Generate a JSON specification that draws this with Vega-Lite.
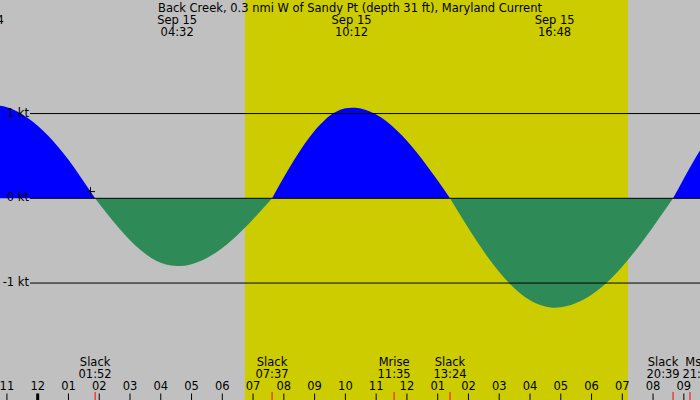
{
  "$schema": "https://vega.github.io/schema/vega-lite/v6.json",
  "width": 700,
  "height": 400,
  "padding": 0,
  "autosize": {"type": "none"},
  "background": "#c0c0c0",
  "config": {
    "view": {"stroke": null},
    "font": "DejaVu Sans",
    "axis": {"grid": false},
    "text": {"font": "DejaVu Sans", "fontSize": 11.5, "color": "black"}
  },
  "datasets": {
    "day": [{"rise": "2024-09-15T06:44", "set": "2024-09-15T19:11"}],
    "curve": [
      {"t": "2024-09-14T22:40", "v": 1.098, "dir": "flood", "seg": "A"},
      {"t": "2024-09-14T23:00", "v": 1.075, "dir": "flood", "seg": "A"},
      {"t": "2024-09-14T23:20", "v": 1.025, "dir": "flood", "seg": "A"},
      {"t": "2024-09-14T23:40", "v": 0.95, "dir": "flood", "seg": "A"},
      {"t": "2024-09-15T00:00", "v": 0.855, "dir": "flood", "seg": "A"},
      {"t": "2024-09-15T00:20", "v": 0.74, "dir": "flood", "seg": "A"},
      {"t": "2024-09-15T00:40", "v": 0.605, "dir": "flood", "seg": "A"},
      {"t": "2024-09-15T01:00", "v": 0.455, "dir": "flood", "seg": "A"},
      {"t": "2024-09-15T01:20", "v": 0.285, "dir": "flood", "seg": "A"},
      {"t": "2024-09-15T01:40", "v": 0.108, "dir": "flood", "seg": "A"},
      {"t": "2024-09-15T01:52", "v": 0, "dir": "flood", "seg": "A"},
      {"t": "2024-09-15T01:52", "v": 0, "dir": "ebb", "seg": "B"},
      {"t": "2024-09-15T02:00", "v": -0.063, "dir": "ebb", "seg": "B"},
      {"t": "2024-09-15T02:20", "v": -0.217, "dir": "ebb", "seg": "B"},
      {"t": "2024-09-15T02:40", "v": -0.363, "dir": "ebb", "seg": "B"},
      {"t": "2024-09-15T03:00", "v": -0.495, "dir": "ebb", "seg": "B"},
      {"t": "2024-09-15T03:20", "v": -0.608, "dir": "ebb", "seg": "B"},
      {"t": "2024-09-15T03:40", "v": -0.698, "dir": "ebb", "seg": "B"},
      {"t": "2024-09-15T04:00", "v": -0.761, "dir": "ebb", "seg": "B"},
      {"t": "2024-09-15T04:20", "v": -0.794, "dir": "ebb", "seg": "B"},
      {"t": "2024-09-15T04:32", "v": -0.8, "dir": "ebb", "seg": "B"},
      {"t": "2024-09-15T04:40", "v": -0.798, "dir": "ebb", "seg": "B"},
      {"t": "2024-09-15T05:00", "v": -0.777, "dir": "ebb", "seg": "B"},
      {"t": "2024-09-15T05:20", "v": -0.734, "dir": "ebb", "seg": "B"},
      {"t": "2024-09-15T05:40", "v": -0.67, "dir": "ebb", "seg": "B"},
      {"t": "2024-09-15T06:00", "v": -0.587, "dir": "ebb", "seg": "B"},
      {"t": "2024-09-15T06:20", "v": -0.487, "dir": "ebb", "seg": "B"},
      {"t": "2024-09-15T06:40", "v": -0.372, "dir": "ebb", "seg": "B"},
      {"t": "2024-09-15T07:00", "v": -0.247, "dir": "ebb", "seg": "B"},
      {"t": "2024-09-15T07:20", "v": -0.115, "dir": "ebb", "seg": "B"},
      {"t": "2024-09-15T07:37", "v": 0, "dir": "ebb", "seg": "B"},
      {"t": "2024-09-15T07:37", "v": 0, "dir": "flood", "seg": "C"},
      {"t": "2024-09-15T07:40", "v": 0.033, "dir": "flood", "seg": "C"},
      {"t": "2024-09-15T08:00", "v": 0.247, "dir": "flood", "seg": "C"},
      {"t": "2024-09-15T08:20", "v": 0.451, "dir": "flood", "seg": "C"},
      {"t": "2024-09-15T08:40", "v": 0.638, "dir": "flood", "seg": "C"},
      {"t": "2024-09-15T09:00", "v": 0.797, "dir": "flood", "seg": "C"},
      {"t": "2024-09-15T09:20", "v": 0.925, "dir": "flood", "seg": "C"},
      {"t": "2024-09-15T09:40", "v": 1.014, "dir": "flood", "seg": "C"},
      {"t": "2024-09-15T10:00", "v": 1.062, "dir": "flood", "seg": "C"},
      {"t": "2024-09-15T10:12", "v": 1.07, "dir": "flood", "seg": "C"},
      {"t": "2024-09-15T10:20", "v": 1.068, "dir": "flood", "seg": "C"},
      {"t": "2024-09-15T10:40", "v": 1.042, "dir": "flood", "seg": "C"},
      {"t": "2024-09-15T11:00", "v": 0.989, "dir": "flood", "seg": "C"},
      {"t": "2024-09-15T11:20", "v": 0.909, "dir": "flood", "seg": "C"},
      {"t": "2024-09-15T11:40", "v": 0.804, "dir": "flood", "seg": "C"},
      {"t": "2024-09-15T12:00", "v": 0.679, "dir": "flood", "seg": "C"},
      {"t": "2024-09-15T12:20", "v": 0.535, "dir": "flood", "seg": "C"},
      {"t": "2024-09-15T12:40", "v": 0.376, "dir": "flood", "seg": "C"},
      {"t": "2024-09-15T13:00", "v": 0.209, "dir": "flood", "seg": "C"},
      {"t": "2024-09-15T13:20", "v": 0.035, "dir": "flood", "seg": "C"},
      {"t": "2024-09-15T13:24", "v": 0, "dir": "flood", "seg": "C"},
      {"t": "2024-09-15T13:24", "v": 0, "dir": "ebb", "seg": "D"},
      {"t": "2024-09-15T13:40", "v": -0.159, "dir": "ebb", "seg": "D"},
      {"t": "2024-09-15T14:00", "v": -0.353, "dir": "ebb", "seg": "D"},
      {"t": "2024-09-15T14:20", "v": -0.539, "dir": "ebb", "seg": "D"},
      {"t": "2024-09-15T14:40", "v": -0.713, "dir": "ebb", "seg": "D"},
      {"t": "2024-09-15T15:00", "v": -0.869, "dir": "ebb", "seg": "D"},
      {"t": "2024-09-15T15:20", "v": -1.005, "dir": "ebb", "seg": "D"},
      {"t": "2024-09-15T15:40", "v": -1.117, "dir": "ebb", "seg": "D"},
      {"t": "2024-09-15T16:00", "v": -1.203, "dir": "ebb", "seg": "D"},
      {"t": "2024-09-15T16:20", "v": -1.26, "dir": "ebb", "seg": "D"},
      {"t": "2024-09-15T16:40", "v": -1.288, "dir": "ebb", "seg": "D"},
      {"t": "2024-09-15T16:48", "v": -1.29, "dir": "ebb", "seg": "D"},
      {"t": "2024-09-15T17:00", "v": -1.286, "dir": "ebb", "seg": "D"},
      {"t": "2024-09-15T17:20", "v": -1.26, "dir": "ebb", "seg": "D"},
      {"t": "2024-09-15T17:40", "v": -1.21, "dir": "ebb", "seg": "D"},
      {"t": "2024-09-15T18:00", "v": -1.138, "dir": "ebb", "seg": "D"},
      {"t": "2024-09-15T18:20", "v": -1.046, "dir": "ebb", "seg": "D"},
      {"t": "2024-09-15T18:40", "v": -0.934, "dir": "ebb", "seg": "D"},
      {"t": "2024-09-15T19:00", "v": -0.804, "dir": "ebb", "seg": "D"},
      {"t": "2024-09-15T19:20", "v": -0.661, "dir": "ebb", "seg": "D"},
      {"t": "2024-09-15T19:40", "v": -0.504, "dir": "ebb", "seg": "D"},
      {"t": "2024-09-15T20:00", "v": -0.338, "dir": "ebb", "seg": "D"},
      {"t": "2024-09-15T20:20", "v": -0.166, "dir": "ebb", "seg": "D"},
      {"t": "2024-09-15T20:39", "v": 0, "dir": "ebb", "seg": "D"},
      {"t": "2024-09-15T20:39", "v": 0, "dir": "flood", "seg": "E"},
      {"t": "2024-09-15T21:00", "v": 0.235, "dir": "flood", "seg": "E"},
      {"t": "2024-09-15T21:20", "v": 0.449, "dir": "flood", "seg": "E"},
      {"t": "2024-09-15T21:40", "v": 0.645, "dir": "flood", "seg": "E"}
    ],
    "hours": [
      {"t": "2024-09-14T23:00"}, {"t": "2024-09-15T00:00"}, {"t": "2024-09-15T01:00"},
      {"t": "2024-09-15T02:00"}, {"t": "2024-09-15T03:00"}, {"t": "2024-09-15T04:00"},
      {"t": "2024-09-15T05:00"}, {"t": "2024-09-15T06:00"}, {"t": "2024-09-15T07:00"},
      {"t": "2024-09-15T08:00"}, {"t": "2024-09-15T09:00"}, {"t": "2024-09-15T10:00"},
      {"t": "2024-09-15T11:00"}, {"t": "2024-09-15T12:00"}, {"t": "2024-09-15T13:00"},
      {"t": "2024-09-15T14:00"}, {"t": "2024-09-15T15:00"}, {"t": "2024-09-15T16:00"},
      {"t": "2024-09-15T17:00"}, {"t": "2024-09-15T18:00"}, {"t": "2024-09-15T19:00"},
      {"t": "2024-09-15T20:00"}, {"t": "2024-09-15T21:00"}
    ],
    "levels": [
      {"kt": 1, "label": "1 kt"},
      {"kt": 0, "label": "0 kt"},
      {"kt": -1, "label": "-1 kt"}
    ],
    "peaks": [
      {"t": "2024-09-14T22:15", "label": "Sep 14\n22:15"},
      {"t": "2024-09-15T04:32", "label": "Sep 15\n04:32"},
      {"t": "2024-09-15T10:12", "label": "Sep 15\n10:12"},
      {"t": "2024-09-15T16:48", "label": "Sep 15\n16:48"}
    ],
    "events": [
      {"t": "2024-09-15T01:52", "kind": "Slack", "label": "Slack\n01:52"},
      {"t": "2024-09-15T07:37", "kind": "Slack", "label": "Slack\n07:37"},
      {"t": "2024-09-15T11:35", "kind": "Mrise", "label": "Mrise\n11:35"},
      {"t": "2024-09-15T13:24", "kind": "Slack", "label": "Slack\n13:24"},
      {"t": "2024-09-15T20:39", "kind": "Slack", "label": "Slack\n20:39"},
      {"t": "2024-09-15T21:12", "kind": "Mset", "label": "Mset\n21:12"}
    ],
    "heading": [
      {"t": "2024-09-15T10:09", "label": "Back Creek, 0.3 nmi W of Sandy Pt (depth 31 ft), Maryland Current"}
    ],
    "now": [{"t": "2024-09-15T01:43", "v": 0.079}]
  },
  "layer": [
    {
      "data": {"name": "day"},
      "mark": {"type": "rect", "color": "#cccc00"},
      "encoding": {
        "x": {
          "field": "rise",
          "type": "temporal",
          "axis": null,
          "scale": {"domain": [
            {"year": 2024, "month": 9, "date": 14, "hours": 22, "minutes": 46, "seconds": 30},
            {"year": 2024, "month": 9, "date": 15, "hours": 21, "minutes": 31, "seconds": 30}
          ]}
        },
        "x2": {"field": "set"}
      }
    },
    {
      "data": {"name": "curve"},
      "mark": {"type": "area", "interpolate": "monotone", "clip": true},
      "encoding": {
        "x": {
          "field": "t",
          "type": "temporal",
          "axis": null,
          "scale": {"domain": [
            {"year": 2024, "month": 9, "date": 14, "hours": 22, "minutes": 46, "seconds": 30},
            {"year": 2024, "month": 9, "date": 15, "hours": 21, "minutes": 31, "seconds": 30}
          ]}
        },
        "y": {
          "field": "v",
          "type": "quantitative",
          "axis": null,
          "scale": {"domain": [-2.38, 2.34], "nice": false, "zero": false}
        },
        "y2": {"datum": 0},
        "color": {
          "field": "dir",
          "type": "nominal",
          "legend": null,
          "scale": {"domain": ["flood", "ebb"], "range": ["#0000ff", "#2e8b57"]}
        },
        "detail": {"field": "seg"}
      }
    },
    {
      "data": {"name": "levels"},
      "mark": {"type": "rule", "color": "black", "strokeWidth": 1},
      "encoding": {
        "x": {"datum": {"year": 2024, "month": 9, "date": 14, "hours": 23, "minutes": 45}, "type": "temporal", "axis": null},
        "x2": {"datum": {"year": 2024, "month": 9, "date": 15, "hours": 21, "minutes": 40}},
        "y": {"field": "kt", "type": "quantitative", "axis": null}
      }
    },
    {
      "data": {"name": "levels"},
      "mark": {"type": "text", "align": "right", "baseline": "middle", "dx": -1},
      "encoding": {
        "x": {"datum": {"year": 2024, "month": 9, "date": 14, "hours": 23, "minutes": 45}, "type": "temporal", "axis": null},
        "y": {"field": "kt", "type": "quantitative", "axis": null},
        "text": {"field": "label"}
      }
    },
    {
      "data": {"name": "hours"},
      "mark": {"type": "rule", "color": "black"},
      "encoding": {
        "x": {"field": "t", "type": "temporal", "axis": null},
        "y": {"datum": -2.303, "axis": null},
        "y2": {"datum": -2.38},
        "strokeWidth": {"condition": {"test": "hours(datum.t) === 0", "value": 3}, "value": 1}
      }
    },
    {
      "data": {"name": "hours"},
      "mark": {"type": "text", "align": "center", "baseline": "alphabetic"},
      "encoding": {
        "x": {"field": "t", "type": "temporal", "axis": null},
        "y": {"datum": -2.262, "axis": null},
        "text": {"field": "t", "type": "temporal", "format": "%I"}
      }
    },
    {
      "data": {"name": "events"},
      "mark": {"type": "rule", "color": "#ff0000", "strokeWidth": 1},
      "encoding": {
        "x": {"field": "t", "type": "temporal", "axis": null},
        "y": {"datum": -2.285, "axis": null},
        "y2": {"datum": -2.38}
      }
    },
    {
      "data": {"name": "events"},
      "transform": [{"filter": "datum.label !== 'Mset\\n21:12' && datum.label !== 'Slack\\n20:39'"}],
      "mark": {"type": "text", "align": "center", "baseline": "alphabetic", "lineBreak": "\n", "lineHeight": 12},
      "encoding": {
        "x": {"field": "t", "type": "temporal", "axis": null},
        "y": {"datum": -1.975, "axis": null},
        "text": {"field": "label"}
      }
    },
    {
      "data": {"name": "events"},
      "transform": [{"filter": "datum.label === 'Slack\\n20:39'"}],
      "mark": {"type": "text", "align": "center", "baseline": "alphabetic", "lineBreak": "\n", "lineHeight": 12, "dx": -10},
      "encoding": {
        "x": {"field": "t", "type": "temporal", "axis": null},
        "y": {"datum": -1.975, "axis": null},
        "text": {"field": "label"}
      }
    },
    {
      "data": {"name": "events"},
      "transform": [{"filter": "datum.label === 'Mset\\n21:12'"}],
      "mark": {"type": "text", "align": "center", "baseline": "alphabetic", "lineBreak": "\n", "lineHeight": 12, "dx": 9},
      "encoding": {
        "x": {"field": "t", "type": "temporal", "axis": null},
        "y": {"datum": -1.975, "axis": null},
        "text": {"field": "label"}
      }
    },
    {
      "data": {"name": "peaks"},
      "mark": {"type": "text", "align": "center", "baseline": "alphabetic", "lineBreak": "\n", "lineHeight": 12},
      "encoding": {
        "x": {"field": "t", "type": "temporal", "axis": null},
        "y": {"datum": 2.057, "axis": null},
        "text": {"field": "label"}
      }
    },
    {
      "data": {"name": "heading"},
      "mark": {"type": "text", "align": "center", "baseline": "alphabetic"},
      "encoding": {
        "x": {"field": "t", "type": "temporal", "axis": null},
        "y": {"datum": 2.2, "axis": null},
        "text": {"field": "label"}
      }
    },
    {
      "data": {"name": "now"},
      "mark": {"type": "point", "shape": "M-1,0L1,0M0,-1L0,1", "size": 81, "filled": false, "color": "black", "strokeWidth": 1, "opacity": 1},
      "encoding": {
        "x": {"field": "t", "type": "temporal", "axis": null},
        "y": {"field": "v", "type": "quantitative", "axis": null}
      }
    }
  ]
}
